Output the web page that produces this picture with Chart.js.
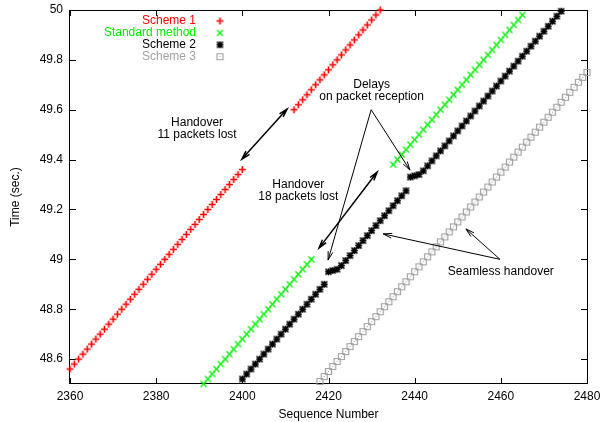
<!DOCTYPE html>
<html>
<head>
<meta charset="utf-8">
<script src="https://cdn.jsdelivr.net/npm/chart.js@4.4.1/dist/chart.umd.min.js"></script>
<style>
  html, body { margin: 0; padding: 0; background: #fff; }
</style>
</head>
<body>
<canvas id="chart" width="600" height="422"></canvas>
<script>
// series names, in legend order
const seriesNames = ["Scheme 1", "Standard method", "Scheme 2", "Scheme 3"];

// each run starts at a sequence number, then one time value per packet
const scheme1Start = [2360, 2412];
const scheme1Time = [
    [48.56, 48.58, 48.60, 48.62, 48.64, 48.66, 48.68, 48.70, 48.72, 48.74,
     48.76, 48.78, 48.80, 48.82, 48.84, 48.86, 48.88, 48.90, 48.92, 48.94,
     48.96, 48.98, 49.00, 49.02, 49.04, 49.06, 49.08, 49.10, 49.12, 49.14,
     49.16, 49.18, 49.20, 49.22, 49.24, 49.26, 49.28, 49.30, 49.32, 49.34,
     49.36],
    [49.60, 49.62, 49.64, 49.66, 49.68, 49.70, 49.72, 49.74, 49.76, 49.78,
     49.80, 49.82, 49.84, 49.86, 49.88, 49.90, 49.92, 49.94, 49.96, 49.98,
     50.00]
];

const standardStart = [2391, 2435];
const standardTime = [
    [48.50, 48.52, 48.54, 48.56, 48.58, 48.60, 48.62, 48.64, 48.66, 48.68,
     48.70, 48.72, 48.74, 48.76, 48.78, 48.80, 48.82, 48.84, 48.86, 48.88,
     48.90, 48.92, 48.94, 48.96, 48.98, 49.00],
    [49.38, 49.40, 49.42, 49.44, 49.46, 49.48, 49.50, 49.52, 49.54, 49.56,
     49.58, 49.60, 49.62, 49.64, 49.66, 49.68, 49.70, 49.72, 49.74, 49.76,
     49.78, 49.80, 49.82, 49.84, 49.86, 49.88, 49.90, 49.92, 49.94, 49.96,
     49.98]
];

const scheme2Start = [2400];
const scheme2Time = [
    [48.52, 48.54, 48.56, 48.58, 48.60, 48.62, 48.64, 48.66, 48.68, 48.70,
     48.72, 48.74, 48.76, 48.78, 48.80, 48.82, 48.84, 48.86, 48.88, 48.90,
     48.95, 48.955, 48.96,
     48.975, 48.995, 49.015, 49.035, 49.055, 49.075, 49.095, 49.115, 49.135, 49.155,
     49.175, 49.195, 49.215, 49.235, 49.255, 49.275,
     49.33, 49.335, 49.34,
     49.355, 49.375, 49.395, 49.415, 49.435, 49.455, 49.475, 49.495, 49.515, 49.535,
     49.555, 49.575, 49.595, 49.615, 49.635, 49.655, 49.675, 49.695, 49.715, 49.735,
     49.755, 49.775, 49.795, 49.815, 49.835, 49.855, 49.875, 49.895, 49.915, 49.935,
     49.955, 49.975, 49.995]
];

const scheme3Start = [2418];
const scheme3Time = [
    [48.51, 48.53, 48.55, 48.57, 48.59, 48.61, 48.63, 48.65, 48.67, 48.69,
     48.71, 48.73, 48.75, 48.77, 48.79, 48.81, 48.83, 48.85, 48.87, 48.89,
     48.91, 48.93, 48.95, 48.97, 48.99, 49.01, 49.03, 49.05, 49.07, 49.09,
     49.11, 49.13, 49.15, 49.17, 49.19, 49.21, 49.23, 49.25, 49.27, 49.29,
     49.31, 49.33, 49.35, 49.37, 49.39, 49.41, 49.43, 49.45, 49.47, 49.49,
     49.51, 49.53, 49.55, 49.57, 49.59, 49.61, 49.63, 49.65, 49.67, 49.69,
     49.71, 49.73, 49.75]
];

const xTicks = [2360, 2380, 2400, 2420, 2440, 2460, 2480];
const yTicks = [48.6, 48.8, 49, 49.2, 49.4, 49.6, 49.8, 50];

// labels and arrows, in data coordinates
const notes = [
    { lines: ["Handover", "11 packets lost"], at: [2389.5, 49.525] },
    { lines: ["Handover", "18 packets lost"], at: [2413.0, 49.274] },
    { lines: ["Delays", "on packet reception"], at: [2430.0, 49.675] },
    { lines: ["Seamless handover"], at: [2460.0, 48.95] }
];
const arrows = [
    { from: [2399.9, 49.402], to: [2410.4, 49.603], both: true },
    { from: [2417.8, 49.045], to: [2431.3, 49.35], both: true },
    { from: [2429.9, 49.6], to: [2419.9, 48.997] },
    { from: [2429.9, 49.6], to: [2438.9, 49.358] },
    { from: [2459.8, 49.0], to: [2432.7, 49.102] },
    { from: [2459.8, 49.0], to: [2451.9, 49.122] }
];

const FONT = '"Liberation Sans", Arial, sans-serif';
const colors = ["#ff0000", "#00ee00", "#000000", "#a0a0a0"];

function makeMarker(kind, color) {
    const c = document.createElement("canvas");
    c.width = 11;
    c.height = 11;
    const g = c.getContext("2d");
    const m = 5.5;
    g.strokeStyle = color;
    g.fillStyle = color;
    g.beginPath();
    if (kind === "plus" || kind === "star") {
        g.moveTo(m - 3.5, m); g.lineTo(m + 3.5, m);
        g.moveTo(m, m - 3.5); g.lineTo(m, m + 3.5);
    }
    if (kind === "cross" || kind === "star") {
        g.moveTo(m - 3, m - 3); g.lineTo(m + 3, m + 3);
        g.moveTo(m - 3, m + 3); g.lineTo(m + 3, m - 3);
    }
    if (kind === "box") {
        g.rect(m - 3, m - 3, 6, 6);
    }
    g.lineWidth = kind === "box" ? 1.2 : (kind === "cross" ? 1.3 : 1.6);
    g.stroke();
    if (kind === "box") g.fillRect(m - 0.5, m - 0.5, 1, 1);
    return c;
}

const markers = [
    makeMarker("plus", colors[0]),
    makeMarker("cross", colors[1]),
    makeMarker("star", colors[2]),
    makeMarker("box", colors[3])
];

function toPoints(starts, runs) {
    let pts = [];
    runs.forEach((run, r) => {
        run.forEach((t, i) => pts.push({ x: starts[r] + i, y: t }));
    });
    return pts;
}

const allData = [
    toPoints(scheme1Start, scheme1Time),
    toPoints(standardStart, standardTime),
    toPoints(scheme2Start, scheme2Time),
    toPoints(scheme3Start, scheme3Time)
];

// gnuplot style frame with inward ticks on all four sides
const framePlugin = {
    id: "frame",
    beforeDatasetsDraw(chart) {
        const { ctx, chartArea: a, scales } = chart;
        ctx.save();
        ctx.strokeStyle = "#000";
        ctx.lineWidth = 1;
        ctx.strokeRect(a.left - 0.5, a.top + 0.5, a.right - a.left + 1, a.bottom - a.top - 1);
        ctx.beginPath();
        xTicks.forEach(v => {
            const px = Math.round(scales.x.getPixelForValue(v)) + 0.5;
            ctx.moveTo(px, a.bottom); ctx.lineTo(px, a.bottom - 6);
            ctx.moveTo(px, a.top); ctx.lineTo(px, a.top + 6);
        });
        yTicks.forEach(v => {
            const py = Math.round(scales.y.getPixelForValue(v)) + 0.5;
            ctx.moveTo(a.left, py); ctx.lineTo(a.left + 6, py);
            ctx.moveTo(a.right, py); ctx.lineTo(a.right - 6, py);
        });
        ctx.stroke();
        ctx.restore();
    }
};

function drawHead(ctx, x1, y1, x2, y2) {
    const ang = Math.atan2(y2 - y1, x2 - x1);
    const len = 9, spread = 0.27;
    ctx.moveTo(x2 - len * Math.cos(ang - spread), y2 - len * Math.sin(ang - spread));
    ctx.lineTo(x2, y2);
    ctx.lineTo(x2 - len * Math.cos(ang + spread), y2 - len * Math.sin(ang + spread));
}

const notesPlugin = {
    id: "notes",
    afterDatasetsDraw(chart) {
        const { ctx, scales } = chart;
        const sx = scales.x, sy = scales.y;
        ctx.save();

        // legend, gnuplot style: text right aligned, marker on the right
        ctx.font = "12px " + FONT;
        ctx.textAlign = "right";
        ctx.textBaseline = "middle";
        chart.data.datasets.forEach((ds, i) => {
            const y = 21 + 11.9 * i;
            ctx.fillStyle = colors[i];
            ctx.fillText(ds.label, 196, y);
            ctx.drawImage(markers[i], 220 - 5.5, y - 5.5);
        });

        // text notes
        ctx.fillStyle = "#000";
        ctx.textAlign = "center";
        notes.forEach(n => {
            const cx = sx.getPixelForValue(n.at[0]);
            const cy = sy.getPixelForValue(n.at[1]);
            const lh = 12;
            const y0 = cy - (n.lines.length - 1) * lh / 2;
            n.lines.forEach((line, k) => ctx.fillText(line, cx, y0 + k * lh));
        });

        // arrows
        ctx.strokeStyle = "#000";
        arrows.forEach(ar => {
            const x1 = sx.getPixelForValue(ar.from[0]), y1 = sy.getPixelForValue(ar.from[1]);
            const x2 = sx.getPixelForValue(ar.to[0]), y2 = sy.getPixelForValue(ar.to[1]);
            ctx.lineWidth = ar.both ? 1.5 : 1;
            ctx.beginPath();
            ctx.moveTo(x1, y1);
            ctx.lineTo(x2, y2);
            drawHead(ctx, x1, y1, x2, y2);
            if (ar.both) drawHead(ctx, x2, y2, x1, y1);
            ctx.stroke();
        });
        ctx.restore();
    }
};

new Chart(document.getElementById("chart").getContext("2d"), {
    type: "scatter",
    data: {
        datasets: allData.map((pts, i) => ({
            label: seriesNames[i],
            data: pts,
            showLine: false,
            pointStyle: markers[i],
            pointRadius: 4,
            pointHoverRadius: 4,
            borderColor: colors[i],
            backgroundColor: colors[i],
            clip: false
        }))
    },
    options: {
        responsive: false,
        animation: false,
        events: [],
        layout: { padding: { left: 0, right: 13, top: 10, bottom: 0 } },
        plugins: {
            legend: { display: false },
            tooltip: { enabled: false }
        },
        scales: {
            x: {
                type: "linear",
                min: 2360,
                max: 2480,
                afterBuildTicks: s => { s.ticks = xTicks.map(v => ({ value: v })); },
                afterFit: s => { s.height = 38; s.paddingLeft = 0; s.paddingRight = 0; },
                grid: { display: false, drawTicks: false },
                border: { display: false },
                ticks: {
                    padding: 5,
                    color: "#000",
                    font: { family: FONT, size: 12 },
                    maxRotation: 0,
                    callback: v => String(v)
                },
                title: {
                    display: true,
                    text: "Sequence Number",
                    color: "#000",
                    font: { family: FONT, size: 12 },
                    padding: { top: 0, bottom: 0 }
                }
            },
            y: {
                type: "linear",
                min: 48.5,
                max: 50,
                afterBuildTicks: s => { s.ticks = yTicks.map(v => ({ value: v })); },
                afterFit: s => { s.width = 70; s.paddingTop = 0; s.paddingBottom = 0; },
                grid: { display: false, drawTicks: false },
                border: { display: false },
                ticks: {
                    padding: 7,
                    color: "#000",
                    font: { family: FONT, size: 12 },
                    callback: v => String(Math.round(v * 10) / 10)
                },
                title: {
                    display: true,
                    text: "Time (sec.)",
                    color: "#000",
                    font: { family: FONT, size: 12 },
                    padding: { top: 8, bottom: 0 }
                }
            }
        }
    },
    plugins: [framePlugin, notesPlugin]
});
</script>
</body>
</html>
